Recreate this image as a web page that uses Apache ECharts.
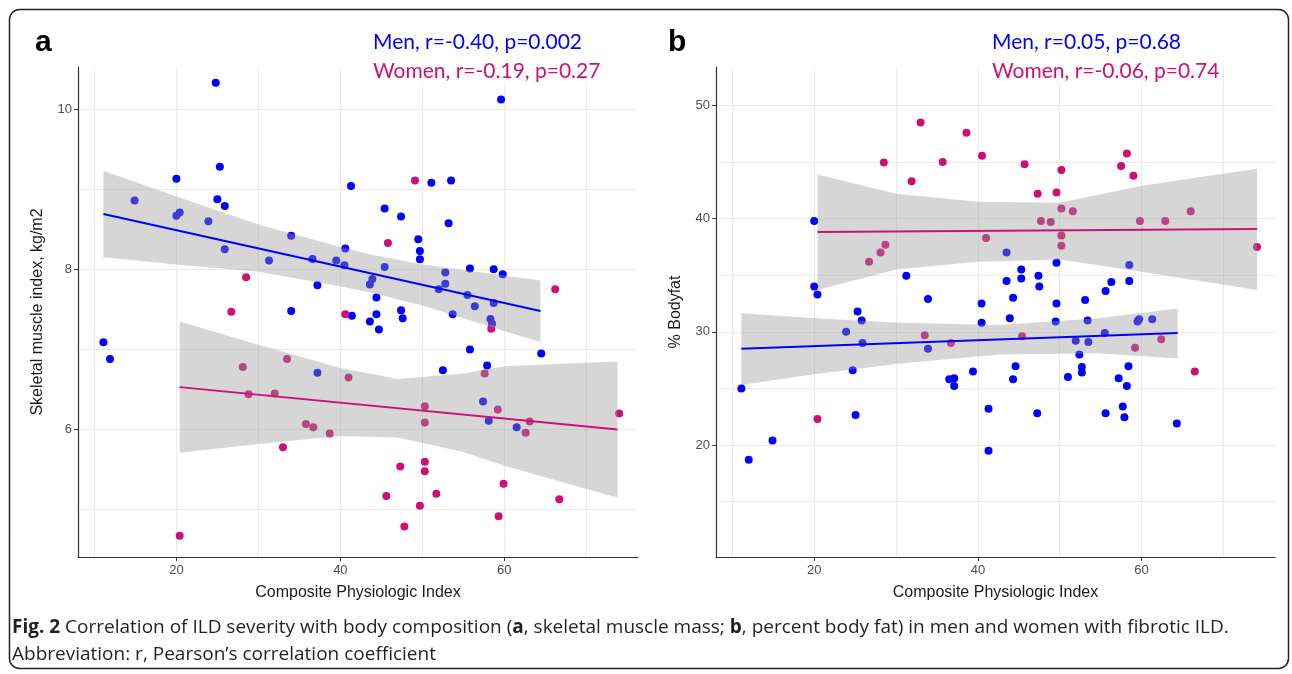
<!DOCTYPE html>
<html><head><meta charset="utf-8">
<script src="https://cdn.jsdelivr.net/npm/echarts@6/dist/echarts.min.js"></script>
<style>html,body{margin:0;padding:0;background:#fff}#c{width:1292px;height:674px}</style>
</head><body><div id="c"></div>
<script>
// ---------- Panel a: skeletal muscle index ----------
const menA = [[11.1,7.09],[11.9,6.88],[14.9,8.86],[20.0,9.13],[20.0,8.67],[20.4,8.71],[23.9,8.6],[24.8,10.33],[25.0,8.875],[25.3,9.28],[25.9,8.79],[25.9,8.25],[31.3,8.11],[34.0,8.42],[34.0,7.48],[36.6,8.13],[37.2,7.80],[37.2,6.71],[39.5,8.11],[40.5,8.05],[40.6,8.26],[41.3,9.04],[41.4,7.42],[43.6,7.81],[43.6,7.35],[43.9,7.88],[44.4,7.65],[44.4,7.44],[44.7,7.25],[45.4,8.76],[45.4,8.03],[47.4,8.66],[47.4,7.49],[47.6,7.39],[49.5,8.375],[49.7,8.23],[49.7,8.125],[51.1,9.08],[52.0,7.75],[52.5,6.74],[52.8,7.96],[52.8,7.82],[53.2,8.575],[53.5,9.11],[53.7,7.44],[55.5,7.68],[55.8,8.01],[55.8,7.00],[56.4,7.54],[57.4,6.35],[57.9,6.80],[58.1,6.11],[58.3,7.38],[58.5,7.32],[58.7,8.00],[58.7,7.58],[59.6,10.12],[59.8,7.94],[61.5,6.03],[64.5,6.95]];
const womenA = [[20.4,4.675],[26.7,7.47],[28.1,6.78],[28.5,7.90],[28.8,6.44],[32.0,6.45],[33.0,5.78],[33.5,6.88],[35.8,6.07],[36.7,6.03],[38.7,5.95],[40.6,7.44],[41.0,6.65],[45.6,5.17],[45.8,8.33],[47.3,5.54],[47.8,4.79],[49.1,9.11],[49.7,5.05],[50.3,6.29],[50.3,6.09],[50.3,5.60],[50.3,5.48],[51.7,5.20],[57.6,6.70],[58.4,7.26],[59.2,6.25],[59.3,4.92],[59.9,5.325],[62.6,5.96],[63.1,6.10],[66.2,7.75],[66.7,5.13],[74.0,6.20]];
const fitMenA = [[11.1,8.69],[64.4,7.48]];
const fitWomenA = [[20.4,6.53],[73.8,6.00]];
const bandMenAX  = [11.1, 20, 30, 40, 44, 50, 64.4];
const bandMenAHi = [9.23, 8.91, 8.56, 8.28, 8.18, 8.06, 7.86];
const bandMenALo = [8.15, 8.06, 7.97, 7.79, 7.70, 7.55, 7.09];
const bandWomenAX  = [20.4, 30, 40, 47, 55, 60, 73.8];
const bandWomenAHi = [7.35, 7.06, 6.77, 6.63, 6.70, 6.79, 6.85];
const bandWomenALo = [5.71, 5.82, 5.92, 5.90, 5.72, 5.55, 5.15];

// ---------- Panel b: % body fat ----------
const menB = [[11.1,25.0],[12.0,18.7],[14.9,20.4],[20.0,39.8],[20.0,34.0],[20.4,33.3],[23.9,30.0],[24.7,26.6],[25.05,22.65],[25.3,31.8],[25.8,31.0],[25.9,29.0],[31.25,34.96],[33.9,32.9],[33.9,28.5],[36.5,25.8],[37.1,25.9],[37.1,25.2],[39.4,26.5],[40.45,32.5],[40.45,30.8],[41.3,23.2],[41.3,19.5],[43.5,37.0],[43.5,34.5],[43.9,31.2],[44.3,33.0],[44.3,25.8],[44.6,26.96],[45.3,35.5],[45.3,34.7],[47.25,22.8],[47.4,34.96],[47.5,34.0],[49.5,30.9],[49.6,36.1],[49.6,32.5],[51.0,26.0],[51.95,29.2],[52.4,28.0],[52.7,26.9],[52.7,26.4],[53.1,32.8],[53.4,31.0],[53.5,29.1],[55.5,29.9],[55.6,33.6],[55.6,22.8],[56.3,34.4],[57.2,25.9],[57.7,23.4],[57.9,22.45],[58.2,25.2],[58.4,26.96],[58.5,35.9],[58.5,34.5],[59.5,30.9],[59.7,31.1],[61.3,31.1],[64.3,21.9]];
const womenB = [[20.4,22.3],[26.7,36.2],[28.1,37.0],[28.5,44.96],[28.7,37.7],[31.9,43.3],[33.0,48.5],[33.5,29.7],[35.7,45.0],[36.7,29.0],[38.6,47.6],[40.5,45.55],[41.0,38.3],[45.4,29.6],[45.7,44.8],[47.3,42.2],[47.7,39.8],[48.9,39.7],[49.6,42.3],[50.2,44.3],[50.2,40.9],[50.2,38.5],[50.2,37.6],[51.6,40.65],[57.5,44.66],[58.2,45.75],[59.0,43.8],[59.2,28.6],[59.8,39.8],[62.4,29.35],[62.9,39.8],[66.0,40.65],[66.5,26.5],[74.1,37.5]];
const fitMenB = [[11.1,28.5],[64.4,29.9]];
const fitWomenB = [[20.4,38.82],[74.1,39.09]];
const bandMenBX  = [11.1, 20, 30.5, 42.6, 54.7, 64.4];
const bandMenBHi = [31.65, 31.2, 30.8, 30.6, 31.2, 32.05];
const bandMenBLo = [25.3, 26.25, 27.2, 28.0, 28.1, 27.65];
const bandWomenBX  = [20.4, 30, 40, 50, 60, 74.1];
const bandWomenBHi = [43.9, 42.2, 41.5, 41.4, 42.9, 44.4];
const bandWomenBLo = [33.7, 35.5, 36.2, 36.4, 35.3, 33.7];

// ---------- tick labels / texts ----------
const xTicks = [20, 40, 60];
const yTicksA = [6, 8, 10];
const yTicksB = [20, 30, 40, 50];
const statsA = ['Men, r=-0.40, p=0.002', 'Women, r=-0.19, p=0.27'];
const statsB = ['Men, r=0.05, p=0.68', 'Women, r=-0.06, p=0.74'];
const xTitle = 'Composite Physiologic Index';
const yTitleA = 'Skeletal muscle index, kg/m2';
const yTitleB = '% Bodyfat';

const BLUE = '#0000ff', PINK = '#cd1076';
const X_MIN = 8, X_MAX = 76.3;
const chart = echarts.init(document.getElementById('c'));

const lineCol = {color: '#333', width: 1.2};
const nameStyle = {fontSize: 16, color: '#1a1a1a', fontFamily: 'Liberation Sans'};
const labelStyle = {color: '#4d4d4d', fontSize: 13, fontFamily: 'Liberation Sans'};

function xAxis(gi) {
  return {
    type: 'value', gridIndex: gi, min: X_MIN, max: X_MAX, position: 'bottom',
    axisLine: {show: true, onZero: false, lineStyle: lineCol},
    axisTick: {show: true, length: 4, customValues: xTicks, lineStyle: {color: '#333'}},
    axisLabel: Object.assign({customValues: xTicks, margin: 7}, labelStyle),
    splitLine: {show: false},
    name: xTitle, nameLocation: 'middle', nameGap: 28, nameTextStyle: nameStyle
  };
}
function xGridAxis(gi) {
  return {
    type: 'value', gridIndex: gi, min: X_MIN, max: X_MAX, splitNumber: 5, position: 'top',
    axisLine: {show: false}, axisTick: {show: false}, axisLabel: {show: false},
    splitLine: {show: true, showMinLine: false, showMaxLine: false, lineStyle: {color: '#ebebeb', width: 1}}
  };
}
function yAxis(gi, min, max, ticks, title) {
  return {
    type: 'value', gridIndex: gi, min: min, max: max, position: 'left',
    axisLine: {show: true, onZero: false, lineStyle: lineCol},
    axisTick: {show: true, length: 4, customValues: ticks, lineStyle: {color: '#333'}},
    axisLabel: Object.assign({customValues: ticks, margin: 6}, labelStyle),
    splitLine: {show: false},
    name: title, nameLocation: 'middle', nameGap: 32, nameTextStyle: nameStyle
  };
}
function yGridAxis(gi, min, max, split) {
  return {
    type: 'value', gridIndex: gi, min: min, max: max, splitNumber: split, position: 'right',
    axisLine: {show: false}, axisTick: {show: false}, axisLabel: {show: false},
    splitLine: {show: true, showMinLine: false, showMaxLine: false, lineStyle: {color: '#ebebeb', width: 1}}
  };
}
function band(gi, xs, lo, hi) {
  return {
    type: 'custom', xAxisIndex: gi, yAxisIndex: gi, z: 3, silent: true,
    data: [[xs[0], lo[0]]],
    renderItem: function (params, api) {
      const p = [];
      for (let i = 0; i < xs.length; i++) p.push(api.coord([xs[i], hi[i]]));
      for (let i = xs.length - 1; i >= 0; i--) p.push(api.coord([xs[i], lo[i]]));
      return {type: 'polygon', shape: {points: p}, style: {fill: 'rgba(153,153,153,0.4)'}};
    }
  };
}
function pts(gi, data, color) {
  return {type: 'scatter', xAxisIndex: gi, yAxisIndex: gi, z: 2, data: data,
    symbolSize: 8, itemStyle: {color: color, opacity: 1}, silent: true};
}
function fit(gi, data, color) {
  return {type: 'line', xAxisIndex: gi, yAxisIndex: gi, z: 4, data: data, showSymbol: false,
    lineStyle: {color: color, width: 2}, silent: true};
}
function txt(x, y, text, size, color, font, weight) {
  return {type: 'text', x: x, y: y, z: 100, silent: true,
    style: {text: text, fontSize: size, fill: color, fontFamily: font, fontWeight: weight || 'normal', verticalAlign: 'middle',
      backgroundColor: 'transparent'}};
}
function txtBg(x, y, text, size, color, font) {
  const t = txt(x, y, text, size, color, font);
  t.style.backgroundColor = '#fff';
  return t;
}

chart.setOption({
  animation: false,
  backgroundColor: '#fff',
  grid: [
    {left: 78, top: 67, width: 560, height: 490},
    {left: 716, top: 67, width: 559, height: 490}
  ],
  xAxis: [xAxis(0), xAxis(1), xGridAxis(0), xGridAxis(1)],
  yAxis: [yAxis(0, 4.41, 10.525, yTicksA, yTitleA), yAxis(1, 10.1, 53.4, yTicksB, yTitleB),
          yGridAxis(0, 4.41, 10.525, 5), yGridAxis(1, 10.1, 53.4, 9)],
  series: [
    pts(0, menA, BLUE), pts(0, womenA, PINK),
    band(0, bandMenAX, bandMenALo, bandMenAHi), band(0, bandWomenAX, bandWomenALo, bandWomenAHi),
    fit(0, fitMenA, BLUE), fit(0, fitWomenA, PINK),
    pts(1, menB, BLUE), pts(1, womenB, PINK),
    band(1, bandMenBX, bandMenBLo, bandMenBHi), band(1, bandWomenBX, bandWomenBLo, bandWomenBHi),
    fit(1, fitMenB, BLUE), fit(1, fitWomenB, PINK)
  ],
  graphic: [
    {type: 'rect', z: 100, shape: {x: 9.5, y: 9.5, width: 1279, height: 659, r: 10}, silent: true,
      style: {fill: 'none', stroke: '#222', lineWidth: 1.5}},
    txt(35, 43, 'a', 30, '#000', 'Liberation Sans', 'bold'),
    txt(668, 43, 'b', 30, '#000', 'Liberation Sans', 'bold'),
    txt(373, 42, statsA[0], 21, BLUE, 'Lato'),
    txtBg(373, 71, statsA[1], 21, PINK, 'Lato'),
    txt(992, 42, statsB[0], 21, BLUE, 'Lato'),
    txtBg(992, 71, statsB[1], 21, PINK, 'Lato'),
    {type: 'text', x: 12, y: 628, z: 100, silent: true,
      style: {text: '{b|Fig. 2} Correlation of ILD severity with body composition ({b|a}, skeletal muscle mass; {b|b}, percent body fat) in men and women with fibrotic ILD.',
        fontSize: 19, fill: '#231f20', fontFamily: 'Open Sans', verticalAlign: 'middle',
        rich: {b: {fontWeight: 'bold', fontSize: 19, fontFamily: 'Open Sans', fill: '#231f20'}}}},
    txt(12, 655, 'Abbreviation: r, Pearson\u2019s correlation coefficient', 19, '#231f20', 'Open Sans')
  ]
});
</script></body></html>
